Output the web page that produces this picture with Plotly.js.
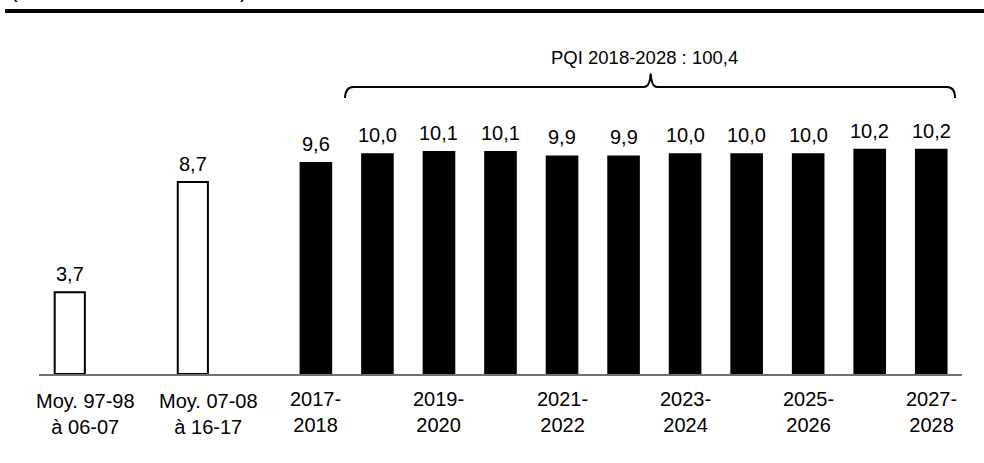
<!DOCTYPE html>
<html>
<head>
<meta charset="utf-8">
<script src="https://cdn.plot.ly/plotly-3.0.1.min.js"></script>
<style>
  html, body { margin: 0; padding: 0; background: #fff; }
  #chart { width: 984px; height: 463px; }
</style>
</head>
<body>
<div id="chart"></div>
<script>
// ---- data ----
const categories = ['Moy. 97-98 à 06-07', 'Moy. 07-08 à 16-17', '2017-2018', '2018-2019', '2019-2020',
  '2020-2021', '2021-2022', '2022-2023', '2023-2024', '2024-2025', '2025-2026', '2026-2027', '2027-2028'];
const values = [3.7, 8.7, 9.6, 10.0, 10.1, 10.1, 9.9, 9.9, 10.0, 10.0, 10.0, 10.2, 10.2];
const tickLabels = ['Moy. 97-98<br>à 06-07', 'Moy. 07-08<br>à 16-17', '2017-<br>2018', '', '2019-<br>2020', '',
  '2021-<br>2022', '', '2023-<br>2024', '', '2025-<br>2026', '', '2027-<br>2028'];
const historicalCount = 2;
const pqiLabel = 'PQI 2018-2028 : 100,4';
const unitLabel = '(en milliards de dollars)';

// ---- layout helpers ----
const FONT = 'Liberation Sans, Arial, sans-serif';
const W = 984, H = 463;
const M = { l: 39, r: 22, t: 87, b: 89 };
const PW = W - M.l - M.r, PH = H - M.t - M.b;
const X = px => (px - M.l) / PW;
const Y = py => (M.t + PH - py) / PH;

// axis categories: a blank slot after each historical average
const axisCats = [];
categories.forEach((c, i) => {
  axisCats.push(c);
  if (i < historicalCount) axisCats.push('gap' + i);
});

const histX = categories.slice(0, historicalCount);
const histY = values.slice(0, historicalCount);
const pqiX = categories.slice(historicalCount);
const pqiY = values.slice(historicalCount);

const traces = [
  { type: 'bar', x: histX, y: histY, width: 0.49,
    marker: { color: '#ffffff', line: { color: '#000000', width: 2 } },
    hoverinfo: 'x+y', showlegend: false },
  { type: 'bar', x: pqiX, y: pqiY, width: 0.53,
    marker: { color: '#000000', line: { color: '#000000', width: 0 } },
    hoverinfo: 'x+y', showlegend: false }
];

const fmt = v => v.toFixed(1).replace('.', ',');
const annotations = [];
categories.forEach((c, i) => {
  annotations.push({ x: c, y: values[i], xref: 'x', yref: 'y', text: fmt(values[i]),
    showarrow: false, yanchor: 'bottom', xanchor: 'center', yshift: 5,
    font: { family: FONT, size: 20, color: '#000' } });
  if (tickLabels[i]) {
    const hist = i < historicalCount;
    annotations.push({ x: c, y: 0, xref: 'x', yref: 'y', text: tickLabels[i],
      showarrow: false, yanchor: 'top', xanchor: 'center', align: 'center',
      xshift: hist ? 16 : 0, yshift: hist ? -14 : -12,
      font: { family: FONT, size: 20, color: '#000' } });
  }
});
annotations.push({ x: X(644), y: Y(70), xref: 'paper', yref: 'paper', text: pqiLabel,
  showarrow: false, xanchor: 'center', yanchor: 'bottom',
  font: { family: FONT, size: 18.5, color: '#000' } });
annotations.push({ x: X(8), y: Y(4), xref: 'paper', yref: 'paper', text: unitLabel,
  showarrow: false, xanchor: 'left', yanchor: 'bottom',
  font: { family: FONT, size: 23, color: '#000' } });

const P = (x, y) => X(x).toFixed(5) + ',' + Y(y).toFixed(5);
const bracePath = 'M' + P(345, 98) + ' Q' + P(345.5, 87) + ' ' + P(353, 87) +
  ' L' + P(644, 87) + ' Q' + P(650, 87) + ' ' + P(650.7, 73.5) +
  ' Q' + P(651.5, 87) + ' ' + P(657, 87) + ' L' + P(947, 87) +
  ' Q' + P(955, 87) + ' ' + P(955, 98);

const shapes = [
  { type: 'line', xref: 'paper', yref: 'paper', x0: X(5), x1: X(990), y0: Y(11), y1: Y(11),
    line: { color: '#000', width: 4 } },
  { type: 'path', xref: 'paper', yref: 'paper', path: bracePath,
    line: { color: '#000', width: 2 } }
];

const layout = {
  width: W, height: H,
  margin: M,
  paper_bgcolor: '#fff', plot_bgcolor: '#fff',
  separators: ',.',
  barmode: 'overlay',
  showlegend: false,
  font: { family: FONT, size: 20, color: '#000' },
  xaxis: { type: 'category', categoryorder: 'array', categoryarray: axisCats,
    range: [-0.5, axisCats.length - 0.5], showticklabels: false, ticks: '',
    showgrid: false, zeroline: false, showline: true, linecolor: '#707070', linewidth: 1.5,
    fixedrange: true },
  yaxis: { range: [0, 13], visible: false, showgrid: false, zeroline: false, fixedrange: true },
  annotations: annotations,
  shapes: shapes
};

Plotly.newPlot('chart', traces, layout, { displayModeBar: false, staticPlot: true });
</script>
</body>
</html>
